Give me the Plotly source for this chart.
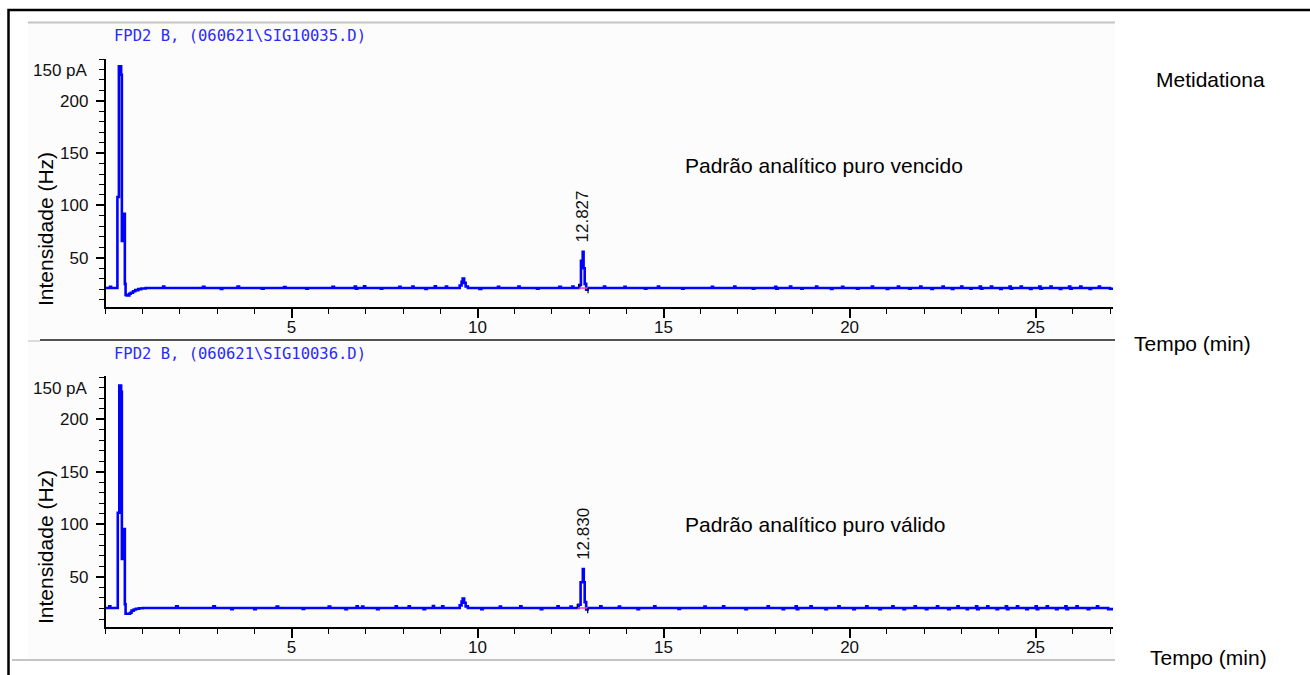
import plotly.graph_objects as go

W, H = 1310, 675

# ---- Chromatogram A: padrão analítico puro vencido (FPD2 B, SIG10035) ----
time_a = [
    0.00, 0.12, 0.15, 0.32, 0.36, 0.42, 0.44, 0.49, 0.52, 0.54, 0.57, 0.64, 0.68, 0.74, 0.80, 0.88, 0.96, 1.08,
    1.55, 1.58, 2.62, 2.66, 3.10, 3.14, 3.55, 3.59, 4.20, 4.25, 4.80, 4.84, 5.40, 5.44, 6.10, 6.14,
    6.70, 6.73, 6.77, 6.95, 6.98, 7.40, 7.44, 7.90, 7.93, 8.25, 8.28, 8.60, 8.64, 8.85, 8.88, 9.15, 9.18, 9.52, 9.57,
    9.60, 9.64, 9.68, 9.74, 10.05, 10.10, 10.55, 10.58, 11.10, 11.13, 11.60, 11.64, 12.20, 12.24, 12.55, 12.58,
    12.74, 12.78, 12.827, 12.85, 12.88, 12.92, 12.96,
    13.40, 13.43, 13.95, 13.98, 14.50, 14.54, 14.85, 14.88, 15.50, 15.54, 16.30, 16.33, 16.90, 16.93, 17.40, 17.44,
    18.00, 18.03, 18.07, 18.40, 18.43, 18.70, 18.74, 19.10, 19.13, 19.50, 19.54, 19.80, 19.83,
    20.20, 20.24, 20.60, 20.63, 21.00, 21.04, 21.30, 21.33, 21.60, 21.64, 21.90, 21.93, 22.20, 22.24, 22.50, 22.53,
    22.75, 22.79, 23.00, 23.03, 23.25, 23.28, 23.50, 23.53, 23.57, 23.80, 23.83, 24.05, 24.09, 24.30, 24.33, 24.37,
    24.60, 24.63, 24.85, 24.89, 25.10, 25.13, 25.17, 25.40, 25.43, 25.65, 25.69, 25.90, 25.93, 25.97, 26.20, 26.23,
    26.45, 26.49, 26.70, 26.73, 27.00, 27.08,
]
signal_a = [
    21.0, 22.3, 21.0, 108.0, 233.0, 225.0, 66.0, 92.0, 25.0, 14.5, 14.0, 15.5, 16.5, 18.0, 19.0, 20.0, 20.6, 21.0,
    22.4, 21.0, 22.3, 21.0, 20.2, 21.0, 22.4, 21.0, 20.3, 21.0, 22.0, 21.0, 20.4, 21.0, 22.2, 21.0,
    22.5, 20.3, 21.0, 22.6, 21.0, 20.3, 21.0, 22.3, 21.0, 22.5, 21.0, 20.2, 21.0, 22.6, 21.0, 22.4, 21.0, 23.5, 27.0,
    30.0, 26.0, 22.5, 21.0, 20.2, 21.0, 22.2, 21.0, 22.5, 21.0, 20.3, 21.0, 22.2, 21.0, 22.5, 21.0,
    24.0, 47.0, 55.7, 40.0, 25.0, 19.5, 21.0,
    22.5, 21.0, 22.2, 21.0, 20.3, 21.0, 22.5, 21.0, 20.4, 21.0, 22.2, 21.0, 22.5, 21.0, 20.3, 21.0,
    22.3, 20.3, 21.0, 22.5, 21.0, 20.3, 21.0, 22.4, 21.0, 20.2, 21.0, 22.3, 21.0,
    20.3, 21.0, 22.5, 21.0, 20.2, 21.0, 22.4, 21.0, 20.3, 21.0, 22.4, 21.0, 20.2, 21.0, 22.5, 21.0,
    20.2, 21.0, 22.4, 21.0, 20.3, 21.0, 22.4, 20.3, 21.0, 22.5, 21.0, 20.2, 21.0, 22.4, 20.3, 21.0,
    22.5, 21.0, 20.2, 21.0, 22.4, 20.3, 21.0, 22.5, 21.0, 20.2, 21.0, 22.4, 20.3, 21.0, 22.5, 21.0,
    20.2, 21.0, 22.4, 21.0, 20.3, 21.0,
]

# ---- Chromatogram B: padrão analítico puro válido (FPD2 B, SIG10036) ----
time_b = [
    0.00, 0.10, 0.13, 0.33, 0.37, 0.42, 0.44, 0.49, 0.52, 0.54, 0.60, 0.66, 0.70, 0.76, 0.82, 0.90, 1.00, 1.10,
    1.90, 1.94, 2.90, 2.94, 3.38, 3.42, 4.00, 4.04, 4.60, 4.64, 5.30, 5.34, 6.00, 6.04, 6.45, 6.49,
    6.75, 6.78, 6.90, 6.93, 7.30, 7.34, 7.80, 7.83, 8.15, 8.18, 8.55, 8.59, 8.80, 8.83, 9.05, 9.08, 9.52, 9.57,
    9.60, 9.64, 9.68, 9.74, 10.10, 10.14, 10.60, 10.63, 11.15, 11.18, 11.70, 11.74, 12.15, 12.18, 12.50, 12.53,
    12.72, 12.77, 12.830, 12.855, 12.88, 12.92, 12.96,
    13.30, 13.33, 13.80, 13.83, 14.30, 14.34, 14.75, 14.78, 15.40, 15.44, 16.10, 16.13, 16.60, 16.63, 17.20, 17.24,
    17.80, 17.83, 18.20, 18.24, 18.55, 18.58, 18.62, 18.95, 18.98, 19.35, 19.39, 19.70, 19.73,
    20.10, 20.14, 20.45, 20.48, 20.80, 20.84, 21.15, 21.18, 21.45, 21.49, 21.75, 21.78, 22.05, 22.09, 22.35, 22.38,
    22.65, 22.69, 22.90, 22.93, 23.15, 23.18, 23.40, 23.43, 23.47, 23.70, 23.73, 23.95, 23.99, 24.20, 24.23, 24.27,
    24.50, 24.53, 24.75, 24.79, 25.00, 25.03, 25.07, 25.30, 25.33, 25.55, 25.59, 25.80, 25.83, 25.87, 26.10, 26.13,
    26.40, 26.44, 26.65, 26.68, 26.95, 27.08,
]
signal_b = [
    20.5, 22.0, 20.5, 111.0, 232.0, 226.0, 67.0, 95.5, 24.0, 15.0, 15.0, 16.0, 18.0, 19.0, 19.8, 20.2, 20.5, 20.5,
    22.0, 20.5, 22.0, 20.5, 19.3, 20.5, 19.3, 20.5, 21.8, 20.5, 19.5, 20.5, 21.9, 20.5, 19.4, 20.5,
    22.0, 20.5, 21.9, 20.5, 19.4, 20.5, 22.0, 20.5, 22.1, 20.5, 19.4, 20.5, 22.2, 20.5, 22.0, 20.5, 23.0, 26.5,
    29.5, 25.5, 22.0, 20.5, 19.4, 20.5, 21.9, 20.5, 22.0, 20.5, 19.4, 20.5, 22.0, 20.5, 21.8, 20.5,
    23.5, 45.0, 57.5, 45.0, 26.0, 19.0, 20.5,
    22.0, 20.5, 21.8, 20.5, 19.4, 20.5, 22.0, 20.5, 19.5, 20.5, 21.9, 20.5, 22.0, 20.5, 19.4, 20.5,
    22.0, 20.5, 19.4, 20.5, 22.1, 19.4, 20.5, 22.0, 20.5, 19.3, 20.5, 22.0, 20.5,
    19.4, 20.5, 22.1, 20.5, 19.3, 20.5, 22.0, 20.5, 19.4, 20.5, 22.0, 20.5, 19.3, 20.5, 22.1, 20.5,
    19.3, 20.5, 22.0, 20.5, 19.4, 20.5, 22.1, 19.4, 20.5, 22.0, 20.5, 19.3, 20.5, 22.0, 19.4, 20.5,
    22.1, 20.5, 19.3, 20.5, 22.0, 19.4, 20.5, 22.1, 20.5, 19.3, 20.5, 22.0, 19.4, 20.5, 22.1, 20.5,
    19.3, 20.5, 22.0, 20.5, 19.4, 20.5,
]

# integrated peak (retention time, apex, integration limits, baseline level)
peak_rt = [12.827, 12.830]
peak_apex = [55.7, 57.5]
peak_start = [12.72, 12.68]
peak_end = [12.97, 12.96]
peak_base = [21.0, 20.5]

file_titles = ["FPD2 B, (060621\\SIG10035.D)", "FPD2 B, (060621\\SIG10036.D)"]
sample_labels = ["Padrão analítico puro vencido", "Padrão analítico puro válido"]
compound = "Metidationa"
x_ticks = [5, 10, 15, 20, 25]
y_ticks = [50, 100, 150, 200]
y_ticktext = ["50", "100", "150", "200"]
x_title = "Tempo (min)"
y_title = "Intensidade (Hz)"
unit_label = "150 pA"

BLUE = "#0000ff"


def px(x):
    return x / W


def py(y):
    return 1 - y / H


fig = go.Figure()

series = [(time_a, signal_a, "x", "y"), (time_b, signal_b, "x2", "y2")]
for i, (t, s, xa, ya) in enumerate(series):
    fig.add_trace(go.Scatter(x=t, y=s, mode="lines", line=dict(color=BLUE, width=2.6, shape="hv"),
                             xaxis=xa, yaxis=ya, showlegend=False, hoverinfo="skip"))
    # integration baseline and start/end markers
    fig.add_trace(go.Scatter(x=[peak_start[i], peak_end[i]], y=[peak_base[i], peak_base[i]], mode="lines",
                             line=dict(color="#ff40c0", width=1.5), xaxis=xa, yaxis=ya,
                             showlegend=False, hoverinfo="skip"))
    fig.add_trace(go.Scatter(x=[peak_start[i], peak_start[i], None, peak_end[i], peak_end[i]],
                             y=[peak_base[i], peak_base[i] + 4, None, peak_base[i], peak_base[i] - 5],
                             mode="lines", line=dict(color="black", width=1.2), xaxis=xa, yaxis=ya,
                             showlegend=False, hoverinfo="skip"))

tickfont = dict(family="Liberation Sans, Arial", size=17, color="#111111")


def xaxis_cfg(domain_px, anchor):
    return dict(domain=[px(domain_px[0]), px(domain_px[1])], range=[0, 27.08], anchor=anchor,
                tickvals=x_ticks, ticks="outside", ticklen=9, tickwidth=1.5, tickcolor="black",
                showline=True, linecolor="black", linewidth=1.5, showgrid=False, zeroline=False,
                minor=dict(dtick=1, tick0=0, ticks="outside", ticklen=5, tickwidth=1.3,
                           tickcolor="black", showgrid=False),
                tickfont=tickfont, ticklabelstandoff=-5)


def yaxis_cfg(top_px, bottom_px, rng, anchor):
    return dict(domain=[py(bottom_px), py(top_px)], range=rng, anchor=anchor,
                tickvals=y_ticks, ticktext=y_ticktext, ticks="outside", ticklen=8, tickwidth=1.5,
                tickcolor="black", showline=True, linecolor="black", linewidth=1.5, showgrid=False,
                zeroline=False,
                minor=dict(dtick=10, tick0=0, ticks="outside", ticklen=5, tickwidth=1.3,
                           tickcolor="black", showgrid=False),
                tickfont=tickfont, ticklabelstandoff=4)


shapes = [
    # panel backgrounds
    dict(type="rect", xref="paper", yref="paper", x0=px(28), x1=px(1115), y0=py(340), y1=py(22),
         fillcolor="#fcfcfc", line=dict(width=0), layer="below"),
    dict(type="rect", xref="paper", yref="paper", x0=px(28), x1=px(1115), y0=py(660), y1=py(341),
         fillcolor="#fcfcfc", line=dict(width=0), layer="below"),
    # separators
    dict(type="line", xref="paper", yref="paper", x0=px(28), x1=px(1115), y0=py(22.5), y1=py(22.5),
         line=dict(color="#c4c4c4", width=2)),
    dict(type="line", xref="paper", yref="paper", x0=px(28), x1=px(40), y0=py(341), y1=py(341),
         line=dict(color="#b8b8b8", width=1)),
    dict(type="line", xref="paper", yref="paper", x0=px(40), x1=px(1115), y0=py(340), y1=py(340),
         line=dict(color="#1a1a1a", width=1.3)),
    dict(type="line", xref="paper", yref="paper", x0=px(12), x1=px(1115), y0=py(660), y1=py(660),
         line=dict(color="#c4c4c4", width=2)),
    # outer frame
    dict(type="rect", xref="paper", yref="paper", x0=px(8.5), x1=px(1320), y0=py(690), y1=py(10),
         line=dict(color="black", width=2.5), fillcolor="rgba(0,0,0,0)"),
]

annotations = []
panel_offsets = [0, 318]
for i, dy in enumerate(panel_offsets):
    annotations += [
        dict(xref="paper", yref="paper", x=px(240), y=py(36 + dy), text=file_titles[i], showarrow=False,
             xanchor="center", yanchor="middle",
             font=dict(family="DejaVu Sans Mono", size=15.5, color="#2a2aff")),
        dict(xref="paper", yref="paper", x=px(90), y=py(70 + dy), text=unit_label, showarrow=False,
             xanchor="right", yanchor="middle", font=tickfont),
        dict(xref="paper", yref="paper", x=px(45), y=py(229 + dy), text=y_title, showarrow=False,
             textangle=-90, xanchor="center", yanchor="middle",
             font=dict(family="Liberation Sans, Arial", size=21, color="black")),
        dict(xref="paper", yref="paper", x=px(683), y=py(166 + 358 * i), text=sample_labels[i],
             showarrow=False, xanchor="left", yanchor="middle",
             font=dict(family="Liberation Sans, Arial", size=21, color="black")),
        dict(xref="x" if i == 0 else "x2", yref="y" if i == 0 else "y2", x=peak_rt[i], y=peak_apex[i],
             text=f"{peak_rt[i]:.3f}", showarrow=False, textangle=-90, xanchor="center",
             yanchor="bottom", yshift=7,
             font=dict(family="Liberation Sans, Arial", size=17, color="#111111")),
    ]

annotations += [
    dict(xref="paper", yref="paper", x=px(1210), y=py(79), text=compound, showarrow=False,
         xanchor="center", yanchor="middle", font=dict(family="Liberation Sans, Arial", size=21, color="black")),
    dict(xref="paper", yref="paper", x=px(1192), y=py(343), text=x_title, showarrow=False,
         xanchor="center", yanchor="middle", font=dict(family="Liberation Sans, Arial", size=21, color="black")),
    dict(xref="paper", yref="paper", x=px(1208), y=py(657), text=x_title, showarrow=False,
         xanchor="center", yanchor="middle", font=dict(family="Liberation Sans, Arial", size=21, color="black")),
]

fig.update_layout(
    width=W, height=H,
    margin=dict(l=0, r=0, t=0, b=0),
    paper_bgcolor="white", plot_bgcolor="rgba(0,0,0,0)",
    xaxis=xaxis_cfg((105.5, 1113), "y"),
    yaxis=yaxis_cfg(59, 307, [2.9, 240], "x"),
    xaxis2=xaxis_cfg((105.5, 1113), "y2"),
    yaxis2=yaxis_cfg(376, 627, [2.4, 241], "x2"),
    shapes=shapes,
    annotations=annotations,
    showlegend=False,
)

fig.write_html("out.html", config={"displayModeBar": False})
